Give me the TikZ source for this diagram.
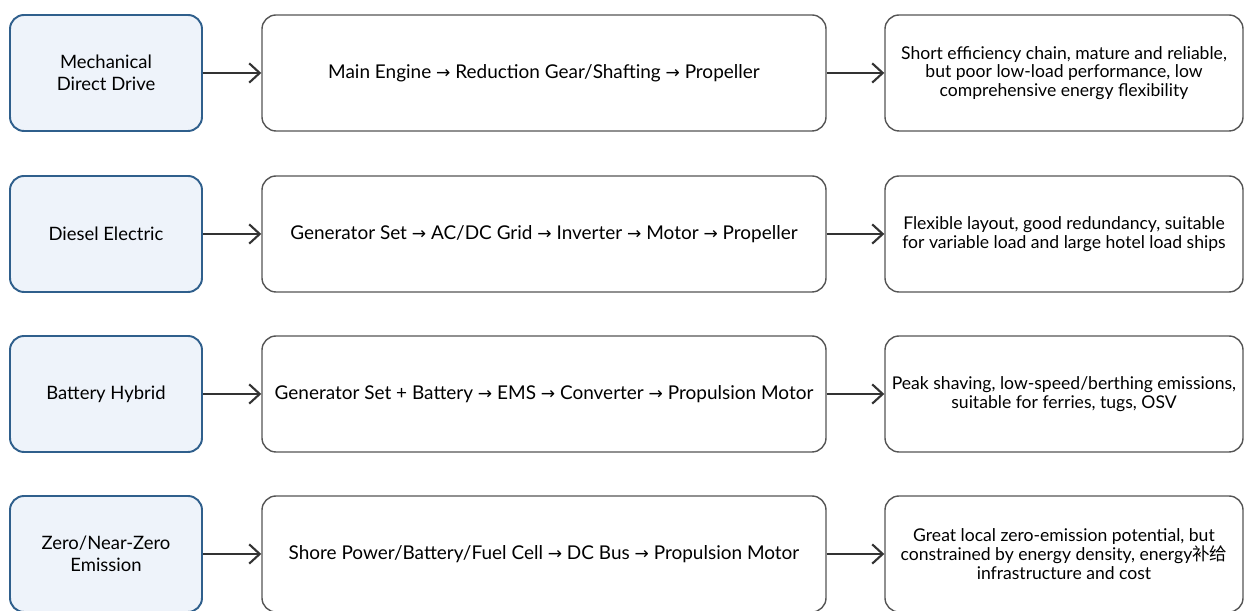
\documentclass[tikz,border=0pt]{standalone}
\usepackage{fontspec}
\setmainfont{Lato}
\newfontfamily\cjk{Noto Sans CJK SC}
\newfontfamily\symf{DejaVu Sans}
\usepackage{tikz}
\usetikzlibrary{arrows.meta,positioning}

\newcommand{\ra}{{\symf\scalebox{0.9}{→}}}
\definecolor{typeblue}{HTML}{2F5F8C}
\definecolor{typefill}{HTML}{EEF3FA}
\definecolor{boxgray}{HTML}{555555}

\begin{document}
\begin{tikzpicture}[
  font=\fontsize{10}{10.6}\selectfont,
  type/.style={rectangle,draw=typeblue,line width=1.1pt,fill=typefill,
               rounded corners=8pt,minimum width=3.84cm,minimum height=2.32cm,
               align=center,font=\fontsize{10.5}{12.5}\selectfont},
  chain/.style={rectangle,draw=boxgray,line width=0.8pt,fill=white,
                rounded corners=8pt,minimum width=11.28cm,minimum height=2.32cm,
                font=\fontsize{10.8}{12}\selectfont},
  note/.style={rectangle,draw=boxgray,line width=0.8pt,fill=white,
               rounded corners=8pt,minimum width=7.16cm,minimum height=2.32cm,
               align=center},
  arr/.style={-{Straight Barb[length=6pt,width=11pt]},line width=1.2pt,black!80},
]
  \useasboundingbox (0,0) rectangle (24.88,12.22);

  % Propulsion types
  \node[type] (t1) at (2.12,10.76) {Mechanical\\Direct Drive};
  \node[type] (t2) at (2.12,7.54)  {Diesel Electric};
  \node[type] (t3) at (2.12,4.34)  {Battery Hybrid};
  \node[type] (t4) at (2.12,1.14)  {Zero/Near-Zero\\Emission};

  % Energy chains
  \node[chain] (c1) at (10.88,10.76)
    {Main Engine \ra{} Reduction Gear/Shafting \ra{} Propeller};
  \node[chain] (c2) at (10.88,7.54)
    {Generator Set \ra{} AC/DC Grid \ra{} Inverter \ra{} Motor \ra{} Propeller};
  \node[chain] (c3) at (10.88,4.34)
    {Generator Set + Battery \ra{} EMS \ra{} Converter \ra{} Propulsion Motor};
  \node[chain] (c4) at (10.88,1.14)
    {Shore Power/Battery/Fuel Cell \ra{} DC Bus \ra{} Propulsion Motor};

  % Assessments
  \node[note] (n1) at (21.28,10.76)
    {Short efficiency chain, mature and reliable,\\but poor low-load performance, low\\comprehensive energy flexibility};
  \node[note] (n2) at (21.28,7.54)
    {Flexible layout, good redundancy, suitable\\for variable load and large hotel load ships};
  \node[note] (n3) at (21.28,4.34)
    {Peak shaving, low-speed/berthing emissions,\\suitable for ferries, tugs, OSV};
  \node[note] (n4) at (21.28,1.14)
    {Great local zero-emission potential, but\\constrained by energy density, energy{\cjk 补给}\\infrastructure and cost};

  % Arrows
  \draw[arr] (t1) -- (c1);
  \draw[arr] (t2) -- (c2);
  \draw[arr] (t3) -- (c3);
  \draw[arr] (t4) -- (c4);
  \draw[arr] (c1) -- (n1);
  \draw[arr] (c2) -- (n2);
  \draw[arr] (c3) -- (n3);
  \draw[arr] (c4) -- (n4);
\end{tikzpicture}
\end{document}
